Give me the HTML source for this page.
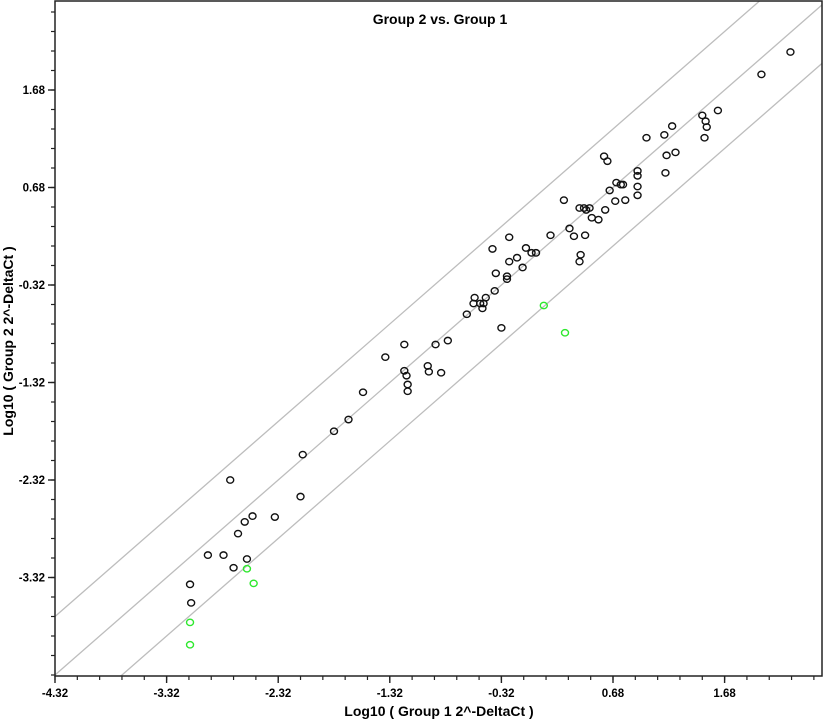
<!DOCTYPE html>
<html><head><meta charset="utf-8"><style>
html,body{margin:0;padding:0;background:#fff;}
svg text{font-family:"Liberation Sans","DejaVu Sans",sans-serif;}
</style></head><body>
<svg id="chart" width="825" height="722" viewBox="0 0 825 722" xmlns="http://www.w3.org/2000/svg">
<defs><clipPath id="plotclip"><rect x="55" y="1" width="767" height="675"/></clipPath></defs>
<rect width="825" height="722" fill="#fff"/>
<text x="440" y="24" text-anchor="middle" font-size="14" font-weight="bold">Group 2 vs. Group 1</text>
<g id="lines" clip-path="url(#plotclip)"></g>
<g id="points"></g>
<g id="axes"></g>
<text x="439" y="716" text-anchor="middle" font-size="14" font-weight="bold">Log10 ( Group 1 2^-DeltaCt )</text>
<text transform="translate(13,341) rotate(-90)" text-anchor="middle" font-size="14" font-weight="bold">Log10 ( Group 2 2^-DeltaCt )</text>
</svg>
<script>
const xTicks=[-4.32,-3.32,-2.32,-1.32,-0.32,0.68,1.68];
const yTicks=[1.68,0.68,-0.32,-1.32,-2.32,-3.32];
const blackX=[2.27,2.01,1.62,1.48,1.51,1.52,1.21,1.14,1.50,0.98,0.60,0.63,1.24,1.16,0.90,0.90,1.15,0.65,0.71,0.75,0.77,0.90,0.90,0.79,0.70,0.61,0.24,0.38,0.42,0.44,0.47,0.49,0.55,0.29,0.33,0.43,0.12,-0.25,-0.40,-0.10,-0.05,-0.01,-0.18,-0.25,-0.13,0.39,0.38,-0.37,-0.27,-0.27,-0.38,-0.56,-0.46,-0.57,-0.51,-0.48,-0.49,-0.63,-0.32,-1.19,-0.80,-0.91,-1.36,-0.98,-0.97,-0.86,-1.19,-1.17,-1.16,-1.16,-1.56,-1.69,-1.82,-2.10,-2.75,-2.12,-2.35,-2.55,-2.62,-2.68,-2.95,-2.81,-2.60,-2.72,-3.11,-3.10];
const blackY=[2.07,1.84,1.47,1.42,1.36,1.30,1.31,1.22,1.19,1.19,1.00,0.95,1.04,1.01,0.85,0.80,0.83,0.65,0.73,0.71,0.71,0.69,0.60,0.55,0.54,0.45,0.55,0.47,0.47,0.45,0.47,0.37,0.35,0.26,0.18,0.19,0.19,0.17,0.05,0.06,0.01,0.01,-0.04,-0.08,-0.14,-0.01,-0.08,-0.20,-0.23,-0.26,-0.38,-0.45,-0.45,-0.51,-0.51,-0.51,-0.56,-0.62,-0.76,-0.93,-0.89,-0.93,-1.06,-1.15,-1.21,-1.22,-1.20,-1.25,-1.34,-1.41,-1.42,-1.70,-1.82,-2.06,-2.32,-2.49,-2.70,-2.69,-2.75,-2.87,-3.09,-3.09,-3.13,-3.22,-3.39,-3.58];
const greenX=[0.06,0.25,-2.60,-2.54,-3.11,-3.11];
const greenY=[-0.53,-0.81,-3.23,-3.38,-3.78,-4.01];
const lineOffsets=[0.6,0,-0.6];

const L=55,R=822,T=1,B=676;
function sx(v){return L+(v+4.32)*111.6;}
function sy(v){return 90-(v-1.68)*97.5;}
const NS="http://www.w3.org/2000/svg";
function mk(tag,attrs,parent){const e=document.createElementNS(NS,tag);for(const k in attrs)e.setAttribute(k,attrs[k]);parent.appendChild(e);return e;}
const linesG=document.getElementById('lines'),ptsG=document.getElementById('points'),axG=document.getElementById('axes');
lineOffsets.forEach(o=>{
  const l=mk('line',{x1:sx(-4.6),y1:sy(-4.6+o),x2:sx(2.7),y2:sy(2.7+o),stroke:'#bdbdbd','stroke-width':1.3},linesG);
  
  
});
function drawPts(xs,ys,color,name){
  xs.forEach((x,i)=>{
    const c=mk('ellipse',{cx:sx(x),cy:sy(ys[i]),rx:3.5,ry:3.2,fill:'none',stroke:color,'stroke-width':1.4},ptsG);
    
    
  });
}
drawPts(blackX,blackY,'#111','data-point');
drawPts(greenX,greenY,'#2ee82e','highlighted-point');
const frame=mk('rect',{x:L,y:T,width:R-L,height:B-T,fill:'none',stroke:'#222','stroke-width':1.5},axG);


for(let v=-4.32;v<2.6;v+=0.2){
  const px=sx(v); if(px<=R+0.5) mk('line',{x1:px,y1:B,x2:px,y2:B+4,stroke:'#222','stroke-width':1.2},axG);
}
for(let v=1.68+0.8;v>-4.45;v-=0.2){
  const py=sy(v); if(py>=T&&py<=B) mk('line',{x1:L-4,y1:py,x2:L,y2:py,stroke:'#222','stroke-width':1.2},axG);
}
xTicks.forEach(v=>{
  mk('line',{x1:sx(v),y1:B,x2:sx(v),y2:B+7,stroke:'#222','stroke-width':1.4},axG);
  const t=mk('text',{x:sx(v),y:B+21,'text-anchor':'middle','font-size':11.5,'font-weight':'bold'},axG);
  t.textContent=v.toFixed(2);
  
  
});
yTicks.forEach(v=>{
  mk('line',{x1:L-7,y1:sy(v),x2:L,y2:sy(v),stroke:'#222','stroke-width':1.4},axG);
  const t=mk('text',{x:L-10,y:sy(v)+4,'text-anchor':'end','font-size':11.5,'font-weight':'bold'},axG);
  t.textContent=v.toFixed(2);
  
  
});
</script>
</body></html>
